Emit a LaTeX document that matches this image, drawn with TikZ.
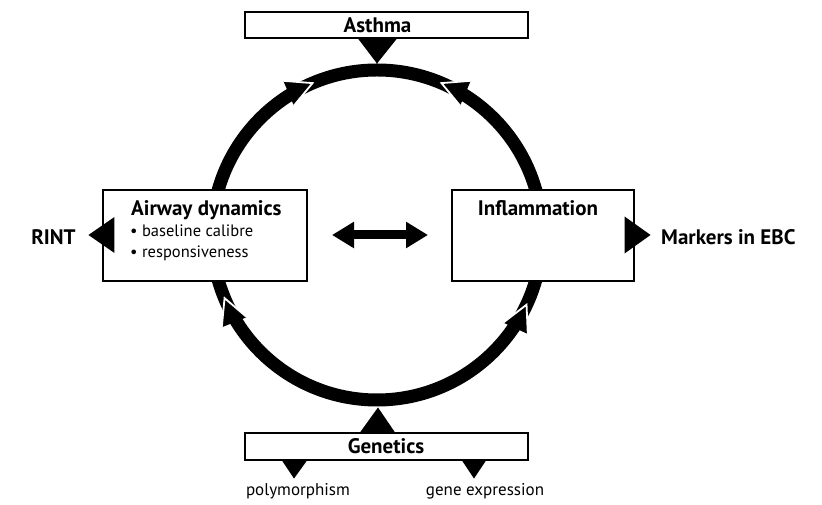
\documentclass[tikz,border=0pt]{standalone}
\usepackage{fontspec}
\setmainfont{PT Sans}
\usetikzlibrary{arrows.meta,calc}
\begin{document}
\begin{tikzpicture}[x=1pt,y=1pt,
  box/.style={draw, line width=1.1pt, fill=white, inner sep=0pt},
  big/.style={font=\fontsize{21}{24}\selectfont\bfseries, inner sep=0pt},
  small/.style={font=\fontsize{16.5}{19}\selectfont, inner sep=0pt},
  tiny/.style={font=\fontsize{17}{20}\selectfont, inner sep=0pt},
  ringhead/.pic={
    \fill (0,0) -- (-26,13.5) -- (-26,-13.5) -- cycle;
    \draw[white, line width=1.8pt] (-26,13.5) -- (0,0) -- (-26,-13.5);
  }
]
\useasboundingbox (0,0) rectangle (822,505);
\coordinate (c) at (377,270);
% ring
\draw[line width=13pt] (c) circle (165);
% arrowheads on ring
\pic[rotate=23]  at ($(c)+(113:165)$) {ringhead};
\pic[rotate=157] at ($(c)+(67:165)$)  {ringhead};
\pic[rotate=112] at ($(c)+(202.5:165)$) {ringhead};
\pic[rotate=65]  at ($(c)+(335:165)$) {ringhead};

% boxes
\node[box, minimum width=283pt, minimum height=26pt, big] (asthma) at (386.5,480) {Asthma\hspace*{18pt}};
\node[box, minimum width=204pt, minimum height=91pt] (airway) at (205,269.5) {};
\node[box, minimum width=182pt, minimum height=91pt] (infl) at (543,269.5) {};
\node[box, minimum width=283pt, minimum height=27pt] (gen) at (386.5,58.5) {};

% texts in boxes
\node[big, anchor=base west] (airt) at (131,289) {Airway dynamics};
\node[small, anchor=base west] (b1) at (130,268) {• baseline calibre};
\node[small, anchor=base west] (b2) at (130,247) {• responsiveness};
\node[big, anchor=base] (inft) at (538,289) {Inflammation};
\node[big, anchor=base] (gent) at (386,51) {Genetics};

% outside labels
\node[big, anchor=base] (rint) at (53.5,260) {RINT};
\node[big, anchor=base west] (mark) at (661,260) {Markers in EBC};
\node[tiny, anchor=base] (poly) at (298,9) {polymorphism};
\node[tiny, anchor=base] (gexp) at (485,9) {gene expression};

% triangles
\fill ($(asthma.south)+(-28.5,0)$) -- ($(asthma.south)+(10.5,0)$) -- ($(asthma.south)+(-9.5,-25)$) -- cycle;
\fill ($(gen.north)+(-26.5,0)$) -- ($(gen.north)+(8.5,0)$) -- ($(gen.north)+(-8.5,25)$) -- cycle;
\fill ($(gen.south)+(-104.5,0)$) -- ($(gen.south)+(-79.5,0)$) -- ($(gen.south)+(-92.5,-18)$) -- cycle;
\fill ($(gen.south)+(75.5,0)$) -- ($(gen.south)+(99.5,0)$) -- ($(gen.south)+(87.5,-18)$) -- cycle;
\fill ($(airway.west)+(12,18.5)$) -- ($(airway.west)+(12,-17.5)$) -- ($(airway.west)+(-14,0.5)$) -- cycle;
\fill ($(infl.east)+(-10,19)$) -- ($(infl.east)+(-10,-18)$) -- ($(infl.east)+(16,0.5)$) -- cycle;

% double arrow
\coordinate (da) at (332,270);
\coordinate (db) at (428,270);
\draw[line width=9pt, {Triangle[length=22pt,width=25pt]}-{Triangle[length=22pt,width=25pt]}] (da) -- (db);
\end{tikzpicture}
\end{document}
